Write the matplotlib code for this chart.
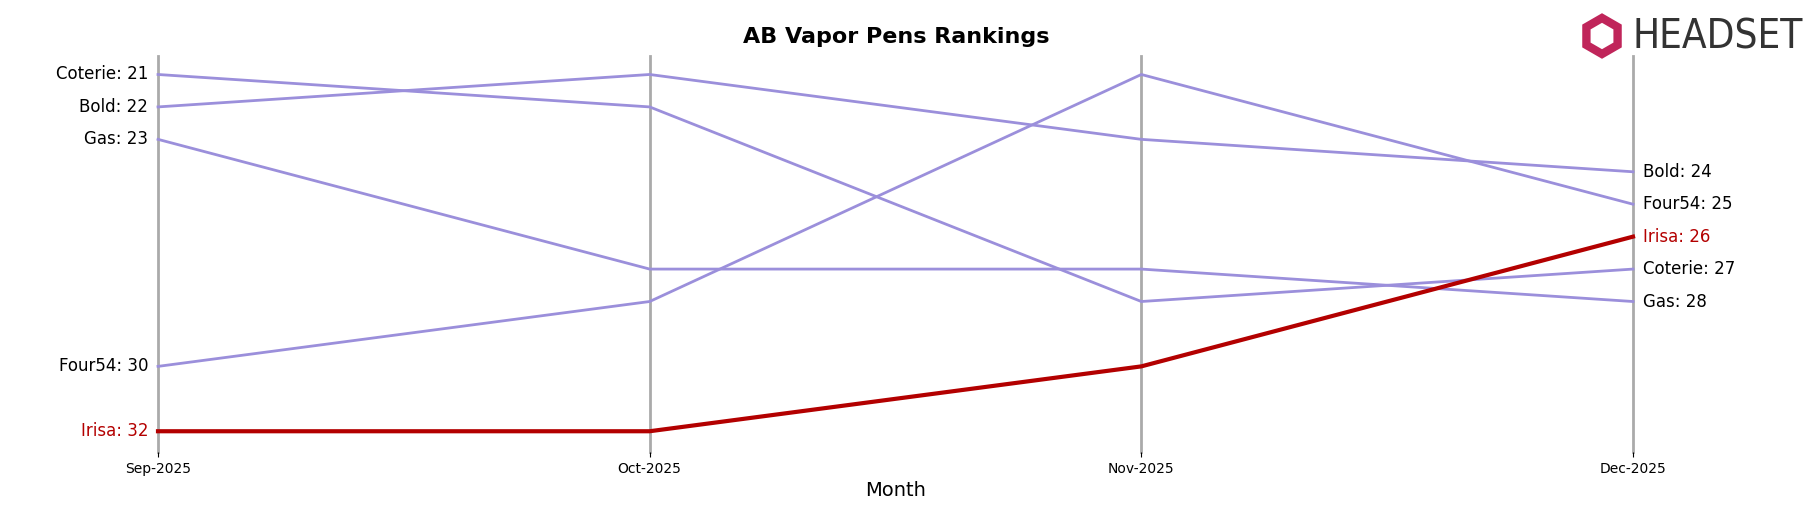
import matplotlib
matplotlib.use("Agg")
import matplotlib.pyplot as plt
from matplotlib.patches import RegularPolygon

months = ["Sep-2025", "Oct-2025", "Nov-2025", "Dec-2025"]
brands = ["Coterie", "Bold", "Gas", "Four54", "Irisa"]
ranks = {
    "Coterie": [21, 22, 28, 27],
    "Bold": [22, 21, 23, 24],
    "Gas": [23, 27, 27, 28],
    "Four54": [30, 28, 21, 25],
    "Irisa": [32, 32, 30, 26],
}
highlight = "Irisa"

W, H = 1818, 507
fig = plt.figure(figsize=(W/100, H/100), dpi=100)
ax = fig.add_axes([158/W, 1-452/H, (1633-158)/W, (452-56)/H])
x = list(range(len(months)))
for b in brands:
    if b == highlight:
        continue
    ax.plot(x, ranks[b], color="#9b8fdb", lw=2, zorder=2, clip_on=False)
ax.plot(x, ranks[highlight], color="#b30000", lw=3, zorder=3, clip_on=False)
for xi in x:
    ax.axvline(xi, color="#aaaaaa", lw=2, zorder=1, clip_on=False)
ax.set_ylim(32.64, 20.43)
ax.set_xlim(0, 3)
ax.set_xticks(x)
ax.set_xticklabels(months, fontsize=10)
ax.set_yticks([])
for s in ax.spines.values():
    s.set_visible(False)
ax.set_xlabel("Month", fontsize=14)
for b in brands:
    c = "#b30000" if b == highlight else "black"
    ax.text(-0.02, ranks[b][0], f"{b}: {ranks[b][0]}", ha="right", va="center", fontsize=12, color=c)
    ax.text(3.02, ranks[b][3], f"{b}: {ranks[b][3]}", ha="left", va="center", fontsize=12, color=c)
fig.text(0.493, 1-37/H, "AB Vapor Pens Rankings", ha="center", va="center", fontsize=16, fontweight="bold")
fig.text(1633/W, 1-38/H, "HEADSET", ha="left", va="center", fontsize=29, color="#333333", fontstretch="condensed")
lax = fig.add_axes([1578/W, 1-60/H, 48/W, 48/H])
lax.set_xlim(-1, 1); lax.set_ylim(-1, 1); lax.axis("off")
lax.add_patch(RegularPolygon((0, 0), 6, radius=0.75, facecolor="none", edgecolor="#c0255a", lw=6))
fig.savefig("out.png", dpi=100)
